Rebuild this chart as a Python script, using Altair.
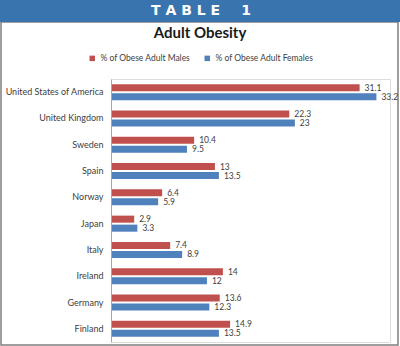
import altair as alt
import pandas as pd

countries = ["United States of America", "United Kingdom", "Sweden", "Spain", "Norway",
             "Japan", "Italy", "Ireland", "Germany", "Finland"]
males = [31.1, 22.3, 10.4, 13, 6.4, 2.9, 7.4, 14, 13.6, 14.9]
females = [33.2, 23, 9.5, 13.5, 5.9, 3.3, 8.9, 12, 12.3, 13.5]
series = ["% of Obese Adult Males", "% of Obese Adult Females"]
colors = ["#C0504D", "#4F81BD"]
header_text = "T A B L E\u2003\u20021"
title_text = "Adult Obesity"

rows = []
for c, m, f in zip(countries, males, females):
    rows.append({"country": c, "series": series[0], "value": m})
    rows.append({"country": c, "series": series[1], "value": f})
df = pd.DataFrame(rows)
dummy = pd.DataFrame({"a": [0]})

FONT = "Lato"

y_enc = alt.Y("country:N", sort=countries,
              scale=alt.Scale(paddingInner=0.39, paddingOuter=0.195),
              axis=alt.Axis(title=None, ticks=False, domainColor="#A6A6A6", domainWidth=1,
                            labelFontSize=9, labelColor="#404040", labelFont=FONT,
                            labelPadding=8, grid=False, zindex=1))
yoff = alt.YOffset("series:N", sort=series, scale=alt.Scale(paddingInner=0.22))
x_enc = alt.X("value:Q", scale=alt.Scale(domain=[0, 34.9], nice=False), axis=None)

bars = alt.Chart(df).mark_bar(stroke=None).encode(
    y=y_enc, yOffset=yoff, x=x_enc,
    color=alt.Color("series:N", sort=series,
                    scale=alt.Scale(domain=series, range=colors),
                    legend=alt.Legend(title=None, orient="none", direction="horizontal",
                                      legendX=-23, legendY=-25, symbolType="square",
                                      symbolSize=30, symbolStrokeWidth=0,
                                      labelFontSize=8.5, labelFont=FONT, labelColor="#404040",
                                      columnPadding=12, labelOffset=4)),
)

labels = alt.Chart(df).mark_text(align="left", baseline="middle", dx=5, fontSize=8.5,
                                 font=FONT, color="#404040").encode(
    y=y_enc, yOffset=yoff, x=x_enc, text=alt.Text("value:Q"))

# decorative frame, header band and titles
border = alt.Chart(dummy).mark_rect(fill=None, fillOpacity=0, stroke="#7F7F7F", strokeWidth=1.5).encode(
    x=alt.value(-110), x2=alt.value(287), y=alt.value(-57), y2=alt.value(266))
header = alt.Chart(dummy).mark_rect(fill="#3A74AE").encode(
    x=alt.value(-111), x2=alt.value(289), y=alt.value(-79), y2=alt.value(-57))
header_t = alt.Chart(dummy).mark_text(text=header_text, color="white", fontSize=14,
                                      fontWeight="bold", font="DejaVu Sans",
                                      align="center", baseline="middle").encode(
    x=alt.value(90), y=alt.value(-68))
title_t = alt.Chart(dummy).mark_text(text=title_text, color="#1A1A1A", fontSize=15,
                                     fontWeight="bold", font=FONT,
                                     align="center", baseline="middle").encode(
    x=alt.value(89), y=alt.value(-46))

chart = alt.layer(border, header, header_t, title_t, bars, labels).properties(
    width=279, height=263,
    autosize=alt.AutoSizeParams(type="none"),
    padding={"left": 111, "top": 79, "right": 10, "bottom": 4},
).configure_view(stroke=None).configure(background="white")

chart.save("out.html", embed_options={"renderer": "svg", "actions": False})
